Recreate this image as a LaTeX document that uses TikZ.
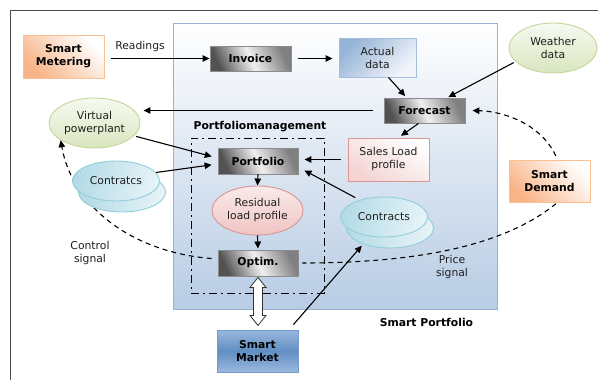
\documentclass[tikz,border=0pt]{standalone}
\usepackage{fontspec}
\setmainfont{DejaVu Sans}
\usetikzlibrary{arrows.meta,shapes.geometric,calc}
\definecolor{txt}{HTML}{1F1F1F}
\definecolor{orangeC}{HTML}{F8B487}
\definecolor{orangeB}{HTML}{FAC090}
\definecolor{spBot}{HTML}{B8CCE4}
\definecolor{spBorder}{HTML}{95B3D7}
\definecolor{greenF}{HTML}{EAF1DC}
\definecolor{greenO}{HTML}{D9E6BF}
\definecolor{greenB}{HTML}{C3D69B}
\definecolor{pinkB}{HTML}{D99694}
\definecolor{pinkF}{HTML}{F0C4C3}
\definecolor{cyanD}{HTML}{B3DBE6}
\definecolor{cyanL}{HTML}{E6F3F7}
\definecolor{cyanB}{HTML}{92CDDC}
\definecolor{blueD}{HTML}{95B3D7}
\definecolor{mktMid}{HTML}{4F81BD}
\definecolor{mktL}{HTML}{9AB8DD}
\begin{document}
\begin{tikzpicture}[x=1pt,y=-1pt,
  font=\fontsize{10.8}{13}\selectfont,
  base/.style={inner sep=0pt, align=center, text=txt},
  bfnt/.style={font=\fontsize{10.8}{13}\selectfont\bfseries},
  gbox/.style={base, bfnt, rectangle, draw=black!45, line width=0.9pt,
    bottom color=black!68, top color=black!50, middle color=black!6, shading angle=-65,
    minimum width=80pt, minimum height=26pt, text=black},
  obox/.style={base, bfnt, rectangle, draw=orangeB, line width=0.9pt,
    top color=white, bottom color=orangeC, shading angle=-45,
    minimum width=81pt, minimum height=43pt, text=black},
  gell/.style={base, ellipse, draw=greenB, line width=0.9pt,
    top color=greenF!40, bottom color=greenO, minimum width=90pt, minimum height=50pt},
  cell/.style={base, ellipse, draw=cyanB, line width=0.9pt,
    left color=cyanD, right color=cyanL, shading angle=80, minimum width=87pt, minimum height=40pt},
  arr/.style={-{Triangle[length=7pt,width=6.5pt]}, line width=1.1pt, black},
  dsh/.style={line width=1.1pt, black, dash pattern=on 5pt off 4pt},
  dashdot/.style={draw=black, line width=1pt, dash pattern=on 8pt off 4pt on 2pt off 4pt}
]
\path[use as bounding box] (0,0) rectangle (598,380);
% outer frame
\draw[black!70, line width=1pt] (10,382) -- (10,10) -- (600,10);

% smart portfolio area
\node[rectangle, draw=spBorder, line width=1pt, top color=white, bottom color=spBot,
  minimum width=324pt, minimum height=286pt, inner sep=0pt] (sp) at (335,166) {};
\node[base, bfnt, text=black] (splabel) at (426.5,322) {Smart Portfolio};

% portfoliomanagement box
\node[rectangle, dashdot, minimum width=133pt, minimum height=155pt, inner sep=0pt] (pmbox) at (257.5,215.5) {};
\node[base, bfnt, text=black] (pmlabel) at (260,127) {Portfoliomanagement};

% nodes
\node[obox] (meter) at (63.5,56.5) {Smart\\Metering};
\node[base] (readings) at (140,47) {Readings};
\node[gbox, minimum width=81pt, minimum height=25pt] (invoice) at (250.5,58.5) {Invoice};
\node[base, rectangle, draw=blueD!85, line width=0.9pt, top color=blueD, bottom color=blueD!12, shading angle=45,
  minimum width=77pt, minimum height=39pt] (actual) at (377.5,57.5) {Actual\\data};
\node[gell, minimum width=88pt] (weather) at (553,48) {Weather\\data};
\node[gbox, minimum width=81pt, minimum height=25pt] (forecast) at (424.5,110.5) {Forecast};
\node[gell, minimum width=91pt] (vpp) at (94.5,123) {Virtual\\powerplant};
\node[gbox] (portfolio) at (258,161) {Portfolio};
\node[base, rectangle, draw=pinkB, line width=0.9pt, top color=white, bottom color=pinkF!75, shading angle=-30,
  minimum width=81pt, minimum height=43pt] (sales) at (388.5,159.5) {Sales Load\\profile};
\node[base, ellipse, draw=pinkB, line width=0.9pt, top color=pinkF!35, bottom color=pinkF,
  minimum width=91pt, minimum height=49pt] (resid) at (257.5,210.5) {Residual\\load profile};
\node[gbox] (optim) at (258,263) {Optim.};
\node[base, bfnt, rectangle, draw=mktMid!80, line width=0.9pt, top color=mktL, bottom color=mktL, middle color=mktMid!90,
  minimum width=81pt, minimum height=42pt, text=black] (market) at (257.5,351) {Smart\\Market};
\node[obox, minimum height=42pt] (demand) at (549.5,181) {Smart\\Demand};
\node[cell] (contrB) at (390,228) {};
\node[cell] (contrA) at (384,217) {Contracts};

% arrows
\draw[arr, shorten <=7pt] (meter.east |- invoice.west) -- (invoice.west);
\draw[arr, shorten <=7pt, shorten >=6pt] (invoice.east) -- (invoice.east -| actual.west);
\draw[arr, shorten >=2pt] ([xshift=11pt]actual.south) -- ([xshift=-18pt]forecast.north);
\draw[arr, shorten <=2pt, shorten >=1pt] (weather.200) -- ([xshift=23pt]forecast.north);
\draw[arr, shorten <=11pt, shorten >=3pt] (forecast.west) -- (forecast.west -| vpp.east);
\draw[arr, shorten >=3pt] ([xshift=-6pt]forecast.south) -- ([xshift=10pt]sales.north);
\draw[arr, shorten <=2pt, shorten >=6pt] (vpp.-18) -- ([yshift=3pt]portfolio.west);
\draw[arr, shorten <=7pt, shorten >=6pt] (sales.west) -- (sales.west -| portfolio.east);
\draw[arr, shorten <=5pt] (contrA.145) -- ([xshift=6pt,yshift=4pt]portfolio.south east);
\draw[arr] (portfolio.south) -- (resid.north);
\draw[arr, shorten >=1pt] (resid.south) -- (optim.north);
\draw[arr, shorten >=2pt] ([xshift=-5pt,yshift=5pt]market.north east) -- (contrB.211);
% double hollow arrow
\draw[line width=0.8pt, draw=black!80, fill=white] ([yshift=-1pt]optim.south) -- ++(8,10) -- ++(-3.5,0) -- ++(0,28) -- ++(3.5,0)
  -- ++(-8,10) -- ++(-8,-10) -- ++(3.5,0) -- ++(0,-28) -- ++(-3.5,0) -- cycle;

% dashed signals
\draw[dsh, -{Triangle[length=7pt,width=6.5pt]}, shorten <=4pt, shorten >=7pt]
  ([xshift=8pt]demand.north) .. controls (540,122) and (500,111) .. (forecast.east);
\draw[dsh, shorten <=2pt, shorten >=4pt]
  ([xshift=8pt]demand.south) .. controls (505,245) and (420,263) .. (optim.east);
\node[base] (price) at (452,267) {Price\\signal};
\draw[dsh, -{Triangle[length=7pt,width=6.5pt]}, shorten <=6pt]
  ([yshift=4pt]optim.west) .. controls (130,252) and (72,205) .. (vpp.207);
\node[base] (ctrl) at (90,253) {Control\\signal};

% contratcs (drawn over the control signal)
\node[cell] (contlB) at (122,192) {};
\node[cell] (contlA) at (116,181) {Contratcs};
\draw[arr, shorten >=6pt] (contlA.12) -- ([yshift=-3pt]portfolio.west);
\end{tikzpicture}
\end{document}
